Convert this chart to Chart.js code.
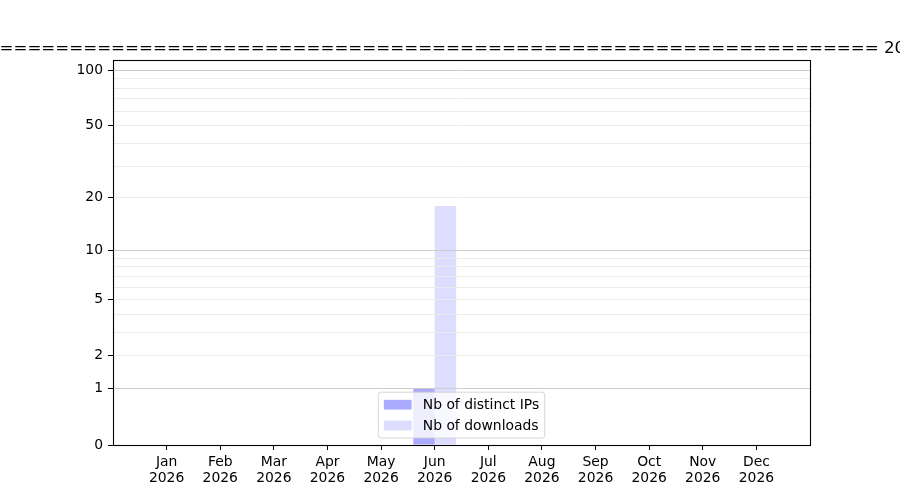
<!DOCTYPE html>
<html>
<head>
<meta charset="utf-8">
<script src="https://cdn.jsdelivr.net/npm/chart.js@4/dist/chart.umd.min.js"></script>
<style>
  html, body { margin: 0; padding: 0; background: #fff; }
  #wrap { width: 900px; height: 500px; }
</style>
</head>
<body>
<div id="wrap"><canvas id="c" width="900" height="500"></canvas></div>
<script>
// ---- data ----
const months = ['Jan','Feb','Mar','Apr','May','Jun','Jul','Aug','Sep','Oct','Nov','Dec'];
const year = '2026';
const ipValues = [0,0,0,0,0,1,0,0,0,0,0,0];
const downloadValues = [0,0,0,0,0,18,0,0,0,0,0,0];
const seriesNames = ['Nb of distinct IPs','Nb of downloads'];
const seriesColors = ['#aaaaff','#ddddff'];
const yTickLabels = [0,1,2,5,10,20,50,100];
const yGridValues = [0,1,2,3,4,5,6,7,8,9,10,20,30,40,50,60,70,80,90,100];
const yMajorValues = [1,10,100];
const yMax = 113.7;
const titleYear = '2026';
const titleText = '='.repeat(70) + ' ' + titleYear + ' ' + '='.repeat(70);

// log(1+x) axis transform
const tf = v => (v === null ? null : Math.log10(1 + v));

const labels = [''].concat(months.map(m => [m, year])).concat(['']);
const pad = arr => [null].concat(arr.map(tf)).concat([null]);

const FONT = { family: 'DejaVu Sans', size: 13.9 };

const decorPlugin = {
  id: 'decor',
  afterDraw(chart) {
    const ctx = chart.ctx;
    const a = chart.chartArea;
    ctx.save();
    // full box (spines)
    ctx.strokeStyle = '#000';
    ctx.lineWidth = 1.1;
    ctx.strokeRect(Math.round(a.left) + 0.5, Math.round(a.top) + 0.5,
                   Math.round(a.right - a.left), Math.round(a.bottom - a.top));

    // title
    ctx.font = '16.67px "DejaVu Sans"';
    ctx.fillStyle = '#000';
    ctx.textBaseline = 'alphabetic';
    ctx.textAlign = 'left';
    const idx = titleText.indexOf(' ' + titleYear);
    const prefix = titleText.slice(0, idx + 1);
    const startX = 884 - ctx.measureText(prefix).width;
    ctx.fillText(titleText, startX, 52.5);

    // legend (lower center, inside axes)
    const fs = 13.9;
    ctx.font = fs + 'px "DejaVu Sans"';
    const tw = Math.max(...seriesNames.map(n => ctx.measureText(n).width));
    const bp = 0.4 * fs, hl = 2.0 * fs, htp = 0.8 * fs, ls = 0.5 * fs, rowH = fs * 1.0;
    const w = 2 * bp + hl + htp + tw;
    const h = 2 * bp + seriesNames.length * rowH + (seriesNames.length - 1) * ls;
    const cx = (a.left + a.right) / 2;
    const lx = cx - w / 2;
    const ly = a.bottom - 0.5 * fs - h;
    const r = 0.2 * fs;
    ctx.beginPath();
    ctx.moveTo(lx + r, ly);
    ctx.lineTo(lx + w - r, ly);
    ctx.quadraticCurveTo(lx + w, ly, lx + w, ly + r);
    ctx.lineTo(lx + w, ly + h - r);
    ctx.quadraticCurveTo(lx + w, ly + h, lx + w - r, ly + h);
    ctx.lineTo(lx + r, ly + h);
    ctx.quadraticCurveTo(lx, ly + h, lx, ly + h - r);
    ctx.lineTo(lx, ly + r);
    ctx.quadraticCurveTo(lx, ly, lx + r, ly);
    ctx.closePath();
    ctx.fillStyle = 'rgba(255,255,255,0.8)';
    ctx.fill();
    ctx.strokeStyle = 'rgba(204,204,204,0.8)';
    ctx.lineWidth = 1;
    ctx.stroke();
    ctx.textBaseline = 'middle';
    seriesNames.forEach((n, i) => {
      const cy = ly + bp + i * (rowH + ls) + rowH / 2;
      ctx.fillStyle = chart.data.datasets[i].backgroundColor;
      ctx.fillRect(lx + bp, cy - 0.35 * fs, hl, 0.7 * fs);
      ctx.fillStyle = '#000';
      ctx.fillText(n, lx + bp + hl + htp, cy + 0.5);
    });
    ctx.restore();
  }
};

new Chart(document.getElementById('c'), {
  type: 'bar',
  data: {
    labels: labels,
    datasets: [
      { label: seriesNames[0], data: pad(ipValues), backgroundColor: seriesColors[0], borderWidth: 0 },
      { label: seriesNames[1], data: pad(downloadValues), backgroundColor: seriesColors[1], borderWidth: 0 }
    ]
  },
  options: {
    responsive: false,
    animation: false,
    devicePixelRatio: 1,
    layout: { padding: { top: 60, right: 90, left: 0, bottom: 0 } },
    plugins: { legend: { display: false }, tooltip: { enabled: false }, title: { display: false } },
    datasets: { bar: { categoryPercentage: 0.8, barPercentage: 1.0 } },
    scales: {
      x: {
        type: 'category',
        offset: false,
        grid: {
          offset: false,
          drawOnChartArea: false,
          drawTicks: true,
          tickLength: 5,
          tickWidth: 1,
          tickColor: c => (c.index === 0 || c.index === labels.length - 1) ? 'rgba(0,0,0,0)' : '#000'
        },
        border: { display: true, color: '#000', width: 1 },
        ticks: { autoSkip: false, maxRotation: 0, minRotation: 0, padding: 4, color: '#000', font: Object.assign({ lineHeight: 1.16 }, FONT) },
        afterFit: s => { s.height = 55; }
      },
      y: {
        type: 'linear',
        min: 0,
        max: tf(yMax),
        afterBuildTicks: s => { s.ticks = yGridValues.map(v => ({ value: tf(v) })); },
        ticks: {
          autoSkip: false,
          padding: 5,
          color: '#000',
          font: FONT,
          callback: (val, i) => {
            const v = yGridValues[i];
            return yTickLabels.includes(v) ? String(v) : '';
          }
        },
        grid: {
          z: 1,
          lineWidth: 1,
          tickLength: 5,
          drawTicks: true,
          color: c => {
            const v = yGridValues[c.index];
            if (v === 0) return 'rgba(0,0,0,0)';
            return yMajorValues.includes(v) ? '#cccccc' : '#ebebeb';
          },
          tickColor: c => yTickLabels.includes(yGridValues[c.index]) ? '#000' : 'rgba(0,0,0,0)'
        },
        border: { display: false },
        afterFit: s => { s.width = 113; }
      }
    }
  },
  plugins: [decorPlugin]
});
</script>
</body>
</html>
